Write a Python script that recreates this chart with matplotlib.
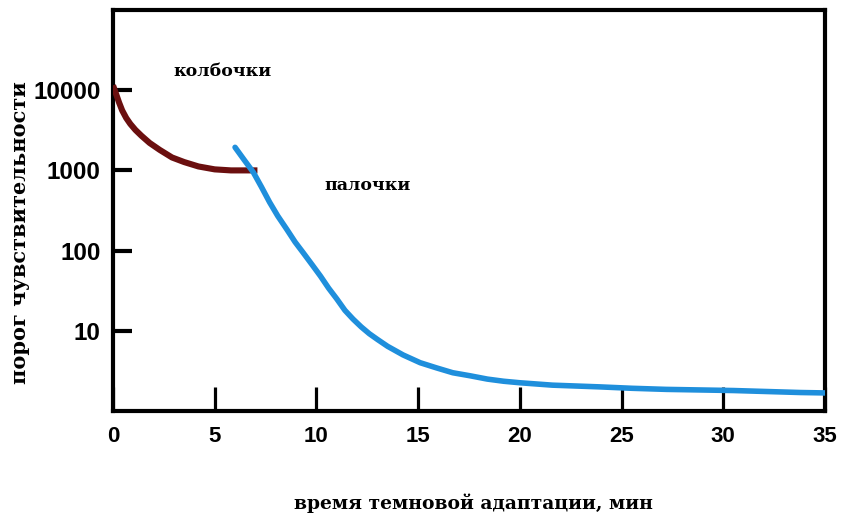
import matplotlib
matplotlib.use("Agg")
import matplotlib.pyplot as plt
from matplotlib.ticker import FixedLocator, NullLocator

# Dark adaptation: threshold vs. time in the dark
cone_t = [0.0, 0.15, 0.3, 0.45, 0.65, 0.85, 1.1, 1.4, 1.8, 2.3, 2.9, 3.5,
          4.2, 5.0, 5.8, 7.1]
cone_v = [11500, 9000, 7000, 5600, 4500, 3800, 3200, 2700, 2200, 1800, 1450,
          1270, 1120, 1030, 1000, 1000]

rod_t = [6.0, 6.45, 6.9, 7.3, 7.7, 8.1, 8.55, 8.95, 9.35, 9.8, 10.2, 10.6,
         11.0, 11.4, 11.8, 12.2, 12.6, 13.0, 13.5, 14.26, 15.1, 15.9, 16.7,
         17.55, 18.4, 19.2, 20.0, 21.6, 23.9, 25.5, 27.2, 30.5, 33.8, 35.0]
rod_v = [1940, 1350, 945, 620, 400, 270, 183, 128, 94, 66, 48, 34,
         25, 18, 14, 11.2, 9.2, 7.8, 6.4, 5.0, 4.0, 3.45, 3.0,
         2.75, 2.5, 2.35, 2.25, 2.1, 2.0, 1.92, 1.86, 1.8, 1.7, 1.68]

x_ticks = [0, 5, 10, 15, 20, 25, 30, 35]
y_ticks = [10, 100, 1000, 10000]
y_tick_labels = ["10", "100", "1000", "10000"]

label_cones = "колбочки"
label_rods = "палочки"
x_title = "время темновой адаптации, мин"
y_title = "порог чувствительности"

fig = plt.figure(figsize=(8.5, 5.16), dpi=100)
ax = fig.add_axes([113 / 850, 1 - 411 / 516, (825 - 113) / 850, (411 - 10) / 516])

ax.plot(cone_t, cone_v, color="#6b0f0f", lw=4.4, solid_capstyle="butt",
        solid_joinstyle="round", zorder=3)
ax.plot(rod_t, rod_v, color="#1f8fdc", lw=4.0, solid_capstyle="round",
        solid_joinstyle="round", zorder=4)

ax.set_yscale("log")
ax.set_xlim(0, 35)
ax.set_ylim(1, 1e5)

ax.yaxis.set_major_locator(FixedLocator(y_ticks))
ax.yaxis.set_minor_locator(NullLocator())
ax.set_yticklabels(y_tick_labels)
ax.set_xticks(x_ticks)
ax.set_xticklabels([str(v) for v in x_ticks])

for s in ax.spines.values():
    s.set_linewidth(3.0)
    s.set_color("black")

ax.tick_params(axis="y", direction="in", length=14, width=3, pad=9,
               labelsize=17.5)
ax.tick_params(axis="x", direction="in", length=17, width=2.3, pad=11,
               labelsize=16)
for lab in ax.get_yticklabels():
    lab.set_fontfamily("Liberation Sans")
    lab.set_fontweight("bold")
for lab in ax.get_xticklabels():
    lab.set_fontfamily("Liberation Sans")
    lab.set_fontweight("bold")

ax.text(5.4, 17000, label_cones, fontfamily="DejaVu Serif", fontweight="bold",
        fontsize=12.5, ha="center", va="center")
ax.text(12.5, 650, label_rods, fontfamily="DejaVu Serif", fontweight="bold",
        fontsize=12.5, ha="center", va="center")

fig.text(473 / 850, 1 - 503 / 516, x_title, fontfamily="DejaVu Serif",
         fontweight="bold", fontsize=13.5, ha="center", va="center")
fig.text(20 / 850, 1 - 233 / 516, y_title, fontfamily="DejaVu Serif",
         fontweight="bold", fontsize=15, ha="center", va="center", rotation=90)

fig.savefig("out.png", dpi=100)
